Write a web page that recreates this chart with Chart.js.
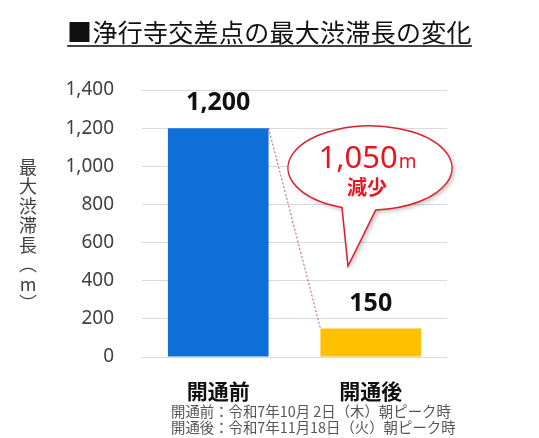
<!DOCTYPE html>
<html lang="ja">
<head>
<meta charset="utf-8">
<script src="https://cdn.jsdelivr.net/npm/chart.js@4/dist/chart.umd.min.js"></script>
<style>
  html, body { margin: 0; padding: 0; background: #ffffff; }
  #wrap { position: relative; width: 539px; height: 438px; overflow: hidden; font-family: "Noto Sans CJK JP", "Noto Sans", sans-serif; }
  #chart { position: absolute; left: 0; top: 0; }
  #title { position: absolute; left: 0; width: 539px; top: 14px; text-align: center; font-size: 25px; line-height: 34px; color: #111; letter-spacing: 0.3px; }
  #title span { text-decoration: underline; text-decoration-color: #444; text-underline-offset: 3px; text-decoration-thickness: 2px; }
  #ytitle { position: absolute; left: 18px; top: 158px; writing-mode: vertical-rl; text-orientation: upright; font-size: 18px; letter-spacing: 1.5px; color: #404040; line-height: 20px; }
  #notes { position: absolute; left: 171px; top: 403px; font-size: 14.4px; line-height: 16px; color: #555; white-space: pre; }
</style>
</head>
<body>
<div id="wrap">
  <canvas id="chart" width="539" height="438"></canvas>
  <div id="title"><span>■浄行寺交差点の最大渋滞長の変化</span></div>
  <div id="ytitle">最大渋滞長（m）</div>
  <div id="notes">開通前：令和7年10月 2日（木）朝ピーク時
開通後：令和7年11月18日（火）朝ピーク時</div>
</div>
<script>
// Maximum queue length at the intersection, before and after opening (m)
const categories = ['開通前', '開通後'];
const queueLength = [1200, 150];
const barColors = ['#0f6fd8', '#ffc000'];
const yTicks = [0, 200, 400, 600, 800, 1000, 1200, 1400];

const JP = '"Noto Sans CJK JP", "Noto Sans", sans-serif';

// Value labels above each bar
const valueLabels = {
  id: 'valueLabels',
  afterDatasetsDraw(chart) {
    const ctx = chart.ctx;
    const meta = chart.getDatasetMeta(0);
    ctx.save();
    ctx.fillStyle = '#111';
    ctx.font = 'bold 25px "Noto Sans", sans-serif';
    ctx.textAlign = 'center';
    ctx.textBaseline = 'middle';
    meta.data.forEach((bar, i) => {
      ctx.fillText(queueLength[i].toLocaleString('en-US'), bar.x, bar.y - 25);
    });
    ctx.restore();
  }
};

// Dotted connector between the bar tops, and the callout with the reduction
const reduction = {
  id: 'reduction',
  afterDatasetsDraw(chart) {
    const ctx = chart.ctx;
    const meta = chart.getDatasetMeta(0);
    const a = meta.data[0], b = meta.data[1];
    ctx.save();
    ctx.strokeStyle = '#c44f5e';
    ctx.lineWidth = 1;
    ctx.setLineDash([2, 2]);
    ctx.beginPath();
    ctx.moveTo(a.x + a.width / 2, a.y);
    ctx.lineTo(b.x - b.width / 2, b.y);
    ctx.stroke();
    ctx.restore();

    // speech bubble
    const cx = 370, cy = 168, rx = 82, ry = 42;
    const aL = 110 * Math.PI / 180, aR = 86 * Math.PI / 180;
    ctx.save();
    ctx.beginPath();
    ctx.ellipse(cx, cy, rx, ry, 0, aL, aR + 2 * Math.PI, false);
    ctx.lineTo(348, 266);
    ctx.closePath();
    ctx.shadowColor = 'rgba(0,0,0,0.28)';
    ctx.shadowBlur = 5;
    ctx.shadowOffsetX = 2;
    ctx.shadowOffsetY = 2;
    ctx.fillStyle = '#ffffff';
    ctx.fill();
    ctx.shadowColor = 'transparent';
    ctx.strokeStyle = '#d9202c';
    ctx.lineWidth = 1.5;
    ctx.stroke();

    const diff = queueLength[0] - queueLength[1];
    const num = diff.toLocaleString('en-US');
    ctx.fillStyle = '#e8141e';
    ctx.textBaseline = 'alphabetic';
    ctx.font = '31px "Noto Sans", sans-serif';
    const wNum = ctx.measureText(num).width;
    ctx.font = '19px "Noto Sans", sans-serif';
    const wM = ctx.measureText('m').width;
    const x0 = 367 - (wNum + wM) / 2;
    ctx.textAlign = 'left';
    ctx.font = '31px "Noto Sans", sans-serif';
    ctx.fillText(num, x0, 168);
    ctx.font = '19px "Noto Sans", sans-serif';
    ctx.fillText('m', x0 + wNum + 1, 168);
    ctx.textAlign = 'center';
    ctx.textBaseline = 'middle';
    ctx.font = 'bold 20px ' + JP;
    ctx.fillText('減少', 367, 187);
    ctx.restore();
  }
};

new Chart(document.getElementById('chart'), {
  type: 'bar',
  data: {
    labels: categories,
    datasets: [{
      data: queueLength,
      backgroundColor: barColors,
      borderWidth: 0,
      barPercentage: 0.66,
      categoryPercentage: 1.0
    }]
  },
  options: {
    responsive: false,
    animation: false,
    devicePixelRatio: 1,
    layout: { padding: { left: 0, top: 90, right: 92, bottom: 0 } },
    plugins: { legend: { display: false }, tooltip: { enabled: false } },
    scales: {
      y: {
        min: 0,
        max: 1400,
        afterBuildTicks(scale) { scale.ticks = yTicks.map(v => ({ value: v })); },
        afterFit(scale) { scale.width = 142; },
        border: { display: false },
        grid: { color: '#d9d9d9', lineWidth: 1, drawTicks: false },
        ticks: {
          padding: 28,
          color: '#404040',
          font: { family: '"Noto Sans", sans-serif', size: 19 },
          callback: v => v.toLocaleString('en-US')
        }
      },
      x: {
        afterFit(scale) { scale.height = 81; },
        border: { display: false },
        grid: { display: false, drawTicks: false },
        ticks: {
          padding: 21,
          color: '#111',
          font: { family: JP, size: 21, weight: 'bold' }
        }
      }
    }
  },
  plugins: [valueLabels, reduction]
});
</script>
</body>
</html>
